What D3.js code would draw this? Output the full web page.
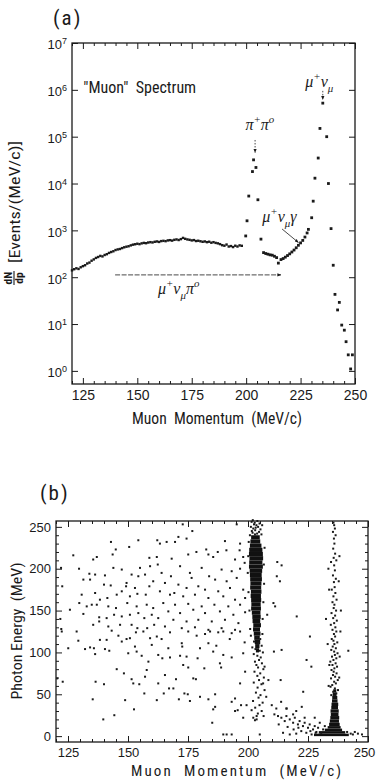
<!DOCTYPE html>
<html>
<head>
<meta charset="utf-8">
<script src="https://cdn.jsdelivr.net/npm/d3@7"></script>
<style>
  body { margin: 0; background: #fff; }
  svg { display: block; }
</style>
</head>
<body>
<script>
// ---- panel (a): "Muon" spectrum, [momentum MeV/c, dN/dp] ----
const continuum = [[120,140],[121,148],[122,155],[123,150],[124,163],[125,172],[126,180],[127,196],[128,205],[129,225],
  [130,240],[131,258],[132,270],[133,285],[134,278],[135,298],[136,310],[137,330],[138,345],[139,358],
  [140,380],[141,392],[142,400],[143,418],[144,435],[145,448],[146,458],[147,478],[148,495],[149,505],
  [150,518],[151,508],[152,528],[153,540],[154,532],[155,550],[156,560],[157,552],[158,570],[159,580],
  [160,566],[161,590],[162,598],[163,588],[164,610],[165,618],[166,604],[167,628],[168,640],[169,622],
  [170,650],[171,690],[172,660],[173,640],[174,628],[175,610],[176,620],[177,592],[178,600],[179,585],
  [180,570],[181,580],[182,560],[183,572],[184,545],[185,560],[186,540],[187,528],[188,508],[189,482],
  [190,470],[191,498],[192,452],[193,462],[194,440],[195,470],[196,452],[197,478],[198,468]];
const pipiPeak = [[199.8,760],[200.4,1600],[201.2,5400],[202.9,18000],[203.4,32000],[204.5,22000],[205.4,4500],[206.8,650]];
const radiative = [[208,335],[209,320],[210,310],[211,300],[212,295],[213,280],[214,262],[214.8,200],[216,238],[217,250],
  [218,268],[219,290],[220,315],[221,345],[222,380],[223,425],[224,480],[225,540],[226,610],[227,720],[228,880],[228.6,1050]];
const munuPeak = [[230.1,1860],[230.8,4200],[231.6,13000],[233.1,35000],[233.9,150000],[235.2,520000],[237,100000],
  [237.8,10000],[239,1090],[240,180],[240.8,43],[242,20],[242.8,29],[243.9,9.5],[245.1,7.4],[245.9,4.2],
  [246.9,2.2],[248,1.1],[248.8,2.2]];
const xTicksA = [125, 150, 175, 200, 225, 250];
const yTicksA = [1, 10, 100, 1e3, 1e4, 1e5, 1e6, 1e7];

// ---- panel (b): scatter, [momentum MeV/c, photon energy MeV] ----
const background = [
  [142.9,232],[154.3,234],[150.5,226],[144.9,223],[162.2,234],[127.2,216],[137,214],[135.5,211],[143.6,217],[158.9,213],
  [122.1,201],[129.6,200],[143.9,201],[155,201],[159.2,203],[133.9,194],[136.3,193],[140.4,192],[147.4,199],[151.5,193],
  [154.3,191],[157.1,193],[131.4,187],[134.2,187],[140,181],[142.8,180],[149.4,183],[149.2,179],[152.9,177],[158.9,179],
  [160.5,185],[122.6,179],[147.4,173],[145.3,169],[150.8,167],[153.9,170],[157.4,169],[130.7,169],[136.3,171],[138.3,163],
  [141.4,165],[129.7,159],[132.8,155],[134.9,157],[137,157],[141.8,155],[145,153],[149.7,159],[153.6,155],[157.8,157],
  [160.5,153],[125.8,151],[131.4,146],[138,142],[141.1,141],[144.2,145],[147.4,143],[150.8,145],[154.3,147],[156.8,141],
  [159.9,145],[135.5,133],[138,137],[141.8,131],[146.7,133],[151.5,133],[153.9,129],[158,129],[160.9,133],[121.8,140],
  [122.2,128],
  [163.3,230],[166.1,232],[169.6,232],[171,238],[174.4,236],[176.8,245],[172.8,253],[190.4,233],[195.3,253],[196.7,230],
  [187.4,220],[183.5,217],[185.5,214],[175.1,217],[198,214],[194.6,211],[162,214],[168.2,212],[162.4,205],[171.7,203],
  [180.7,201],[189,199],[193.2,197],[196.7,200],[164,195],[167.9,191],[175.8,195],[176.5,189],[183.8,191],[186.3,187],
  [191.1,185],[195.3,189],[165.4,183],[171,181],[174.4,177],[179.3,179],[182.1,175],[187.6,173],[192.5,177],[198,175],
  [163.3,173],[167.5,169],[169.3,171],[173,167],[177.9,169],[183.5,165],[189.7,167],[194.6,163],[198.8,165],[164.7,159],
  [169.6,157],[175.1,158],[180.7,155],[186,157],[191.8,155],[196.7,157],[166.8,149],[171.7,147],[177.2,151],[182.1,147],
  [188.3,149],[193.9,145],[198.8,148],[162.6,141],[168.9,139],[174.4,137],[179.3,139],[184.9,137],[190.4,139],[196,135],
  [165.4,131],[172.4,129],[177.9,130],[183.5,127],[189,129],[194.6,127],[178.5,220],[182.6,223],[191,222],[196.5,222],
  [198.6,207],
  [122.4,125],[128.6,125],[143.2,126],[146,120],[141.1,115],[138.3,115],[147.4,113],[149.4,116],[150.8,117],[153.3,124],
  [156.4,125],[159.2,117],[162,119],[129.3,114],[134.2,106],[135.8,105],[132.1,104],[125.1,105],[136.3,98],[140.4,104],
  [142.2,102],[150.1,99],[152.9,107],[153.6,101],[155.7,96],[158.5,89],[159.9,109],[162.6,97],[145.3,80],[148.3,75],
  [151.5,68],[152.2,63],[154.7,62],[157.1,71],[157.8,79],[162.6,63],[120.5,69],[122.8,65],[136.5,65],[140,62],
  [135.3,44],[148.8,43],[156.8,51],[162,43],[152.5,32],[144.3,25],[139.7,20],
  [167.5,124],[175.1,125],[178.6,120],[182.1,122],[184.2,125],[187.6,124],[189.7,125],[193.2,123],[196.7,125],[164,116],
  [172.4,111],[172.6,107],[166.8,105],[180,105],[183.5,111],[185.5,101],[164.3,93],[167.5,94],[171.7,96],[174.4,95],
  [179,93],[189.7,97],[193.2,94],[198,99],[173,85],[175.1,82],[181.8,81],[188.3,87],[188.8,82],[198.8,77],
  [165.4,73],[177.2,69],[178.3,68],[170,68],[196.7,63],[164.9,51],[167.1,57],[168.9,57],[173.5,51],[174.9,50],
  [180,47],[183.5,44],[186.3,50],[193.2,41],[194.6,45],[171.2,44],[175.8,42],[186.3,35],[185.5,32],[194.6,30],
  [195.7,31],[185.1,16],[189.7,2],[191.1,2],[193.2,2],[197.1,37],[198,22],[199.4,37],[198.6,112],[192.4,116],
  [186.8,108],
  [212.2,208],[214,204],[212,191],[213.3,185],[210.6,159],[211.3,155],[220.3,143],[208,145],[225.8,119],[210.8,101],
  [214,103],[224.4,91],[241.8,102],[213.6,67],[223,53],[208.5,67],[209.9,37],[213.8,41],[222.4,35],[216.1,33],
  [226.4,83],[206.9,83],[206.3,63],[207.6,47]];
const lowTail = [[211,26],[212.5,24],[213.9,22],[215.3,18],[216,24],[217.4,20],[218.8,16],[219.5,22],[220.8,14],[221.5,18],
  [222.9,12],[223.6,16],[225,10],[225.7,14],[227.1,8],[227.8,12],[229.2,10],[229.9,16],[231.3,8],[232,12],
  [214.6,4],[217.4,2],[220.1,3],[222.2,6],[224.3,4],[218.8,26],[220.1,30],[211.8,33],[216,33],[223.6,22],
  [227.8,22],[219,8],[221,10],[226,6],[228.5,5],[230.5,4],[243.7,2],[245.8,3],[244.5,5],[247.5,2],
  [212.8,14],[216.5,11],[204.9,2]];
// dense cores: [energy lo, energy hi, momentum lo, momentum hi]
const core203 = [[235,240,201.3,204.9],[230,235,201.0,205.1],[225,230,200.8,205.6],[220,225,200.5,206.0],[215,220,200.4,206.2],
  [210,215,200.6,206.3],[205,210,200.5,206.0],[200,205,200.4,206.2],[195,200,200.7,205.9],[190,195,200.8,205.7],
  [185,190,200.9,205.8],[180,185,201.0,205.6],[175,180,200.9,205.5],[170,175,201.2,205.6],[165,170,201.1,205.4],
  [160,165,201.3,205.5],[155,160,201.4,205.3],[150,155,201.3,205.4],[145,150,201.6,205.2],[140,145,201.8,205.3],
  [135,140,201.9,205.1],[130,135,202.2,205.4],[125,130,202.1,205.0],[120,125,202.4,205.2],[115,120,202.6,204.9],
  [110,115,202.8,205.1],[105,110,203.0,204.8],[100,105,203.3,204.6]];
const fringe203 = [[201.5,256],[202.8,255],[203.9,257],[203.5,252],[204.2,250],[201.2,250],[202.2,248],[203,246],[204.6,244],
  [201.9,243],[203.8,242],[205.2,247],[202.5,253],[204.8,254],[201.6,245],[202.9,241],[205.6,241],[200.8,240],[203.2,249],
  [205.9,252],[202,258],[200.1,215],[206.6,205],[206.7,182],[200.2,172],[206.4,160],[200.6,150],[206.1,140],[200.9,128],
  [206,122],[199.9,195],[206.9,225],[200.3,232],
  [201.2,120],[203.8,118],[205.1,116],[202.5,113],[204.4,111],[205.7,108],[201.8,106],[203.1,104],[204.9,102],[206.2,100],
  [202.4,98],[203.9,96],[205.3,94],[204.6,91],[202.9,89],[205.8,87],[203.5,85],[204.2,82],[206.4,80],[202.7,77],
  [205.1,75],[203.9,72],[206.6,70],[204.6,67],[202.4,64],[205.6,62],[204,58],[206.9,55],[203.3,52],[205.2,49],
  [204.4,46],[202.1,42],[206.1,40],[204.8,37],[203,34],[205.7,30],[204.1,27],[206.5,24],[203.6,20],[201.5,31],
  [202.2,22],[202.9,19],[203.6,24]];
const core235 = [[0,3,227.5,242.0],[3,6,229.5,240.5],[6,9,232.0,239.2],[9,12,233.2,238.6],[12,16,233.8,238.2],
  [16,20,234.1,237.9],[20,24,234.3,238.0],[24,28,234.5,237.7],[28,32,234.4,237.8],[32,36,234.7,237.5],
  [36,40,234.8,237.6],[40,44,235.0,237.3],[44,48,235.1,237.2],[48,52,235.3,236.9],[52,56,235.5,236.8]];
const fringe235 = [[235.6,255],[235.9,252],[236.2,248],[235.4,244],[236.5,240],[235.8,236],[236,230],[235.5,224],[236.3,218],
  [235.7,213],[236.8,210],[234.6,208],[235.9,204],[236.2,198],[235.4,192],[236.6,188],[235.8,184],[236.1,178],[234.9,175],
  [236.4,171],[235.6,167],[236.9,163],[235.2,160],[236,157],[235.7,153],[236.7,150],[234.8,147],[236.3,144],[235.5,141],
  [237,138],[235.9,135],[234.5,133],[236.4,130],[235.2,127],[236.8,125],[235.8,122],[236.3,119],[234.9,116],[235.6,114],
  [237.2,112],[236,110],[235.3,107],[236.6,105],[234.7,103],[235.9,101],[237.3,99],[236.2,97],[235,95],[236.8,93],
  [235.6,91],[234.3,89],[236.5,87],[235.2,85],[237.1,83],[236,81],[234.8,79],[235.7,77],[236.9,75],[235.4,73],
  [236.3,71],[234.6,69],[237.4,67],[235.9,65],[236.6,63],[235.1,61],[234.4,59],[236.2,57],[237.5,55],[235.5,53],
  [236.8,51],[234.7,49],[233.6,60],[238,70],[233.9,85],[238.2,95],[233.2,110],[238.5,125],[232.5,140],[238.7,150],
  [233.8,175],[237.8,185],[233.5,200],[238.1,215],[226.5,2],[241.3,5],[242.8,3],[228.2,4]];
const xTicksB = [125, 150, 175, 200, 225, 250];
const yTicksB = [0, 50, 100, 150, 200, 250];

const FONT = "'Liberation Sans Narrow','Roboto Condensed','Liberation Sans',Arial,sans-serif";
const SERIF = "'Liberation Serif','DejaVu Serif',serif";
const INK = '#1a1a1a';

const svg = d3.select('body').append('svg')
  .attr('width', 377)
  .attr('height', 781)
  .style('font-family', FONT);

// inward ticks on all four sides of a framed plot
const drawFrame = (x, y, majorX, minorX, majorY, minorY, fmtY) => {
  const [x0, x1] = x.range();
  const [y0, y1] = y.range();
  const g = svg.append('g').attr('class', 'frame');
  const tick = (axis, tx, ty, vals, len, fmt) => {
    const a = g.append('g').attr('transform', `translate(${tx},${ty})`)
      .call(axis.tickValues(vals).tickSizeInner(-len).tickSizeOuter(0).tickFormat(fmt || ''));
    a.select('.domain').remove();
    a.selectAll('line').attr('stroke', INK).attr('stroke-width', 1);
    return a;
  };
  const bottom = tick(d3.axisBottom(x).tickPadding(6), 0, y0, majorX, 6, d3.format('d'));
  tick(d3.axisBottom(x), 0, y0, minorX, 3);
  tick(d3.axisTop(x), 0, y1, majorX, 6);
  tick(d3.axisTop(x), 0, y1, minorX, 3);
  const left = tick(d3.axisLeft(y).tickPadding(5), x0, 0, majorY, 6, fmtY);
  if (minorY) {
    tick(d3.axisLeft(y), x0, 0, minorY, 3);
    tick(d3.axisRight(y), x1, 0, minorY, 3);
  }
  tick(d3.axisRight(y), x1, 0, majorY, 6);
  g.append('rect')
    .attr('x', x0).attr('y', y1)
    .attr('width', x1 - x0).attr('height', y0 - y1)
    .attr('fill', 'none').attr('stroke', INK).attr('stroke-width', 1.3);
  return { bottom, left };
};

// text with super/subscripts: parts = [[string, 'sup'|'sub'|undefined], ...]
const richText = (x, y, parts, size, anchor) => {
  const t = svg.append('text')
    .attr('x', x).attr('y', y)
    .attr('font-family', SERIF)
    .attr('font-style', 'italic')
    .attr('font-size', size)
    .attr('text-anchor', anchor || 'start')
    .attr('fill', INK);
  let shift = 0;
  parts.forEach(([s, kind]) => {
    const target = kind === 'sup' ? -0.45 * size : kind === 'sub' ? 0.3 * size : 0;
    t.append('tspan')
      .attr('dy', target - shift)
      .attr('font-size', kind ? size * 0.68 : size)
      .text(s);
    shift = target;
  });
  return t;
};

// ================= panel (a) =================
const ax = d3.scaleLinear().domain([120, 250]).range([72, 355]);
const ay = d3.scaleLog().domain([Math.pow(10, -0.28), 1e7]).range([384, 43]);

const minorA = d3.range(120, 251, 5).filter(v => v % 25 !== 0);
const frameA = drawFrame(ax, ay, xTicksA, minorA, yTicksA, null, () => '');
frameA.bottom.selectAll('text').attr('font-size', 14).attr('fill', INK);
frameA.left.selectAll('.tick text').each(function(d) {
  const t = d3.select(this).attr('font-size', 13).attr('fill', INK).attr('dy', '0.45em');
  t.append('tspan').text('10');
  t.append('tspan').attr('dy', '-0.55em').attr('font-size', 9).text(Math.round(Math.log10(d)));
});

const spectrum = svg.append('g').attr('class', 'spectrum').attr('fill', INK);
spectrum.selectAll('rect.cont')
  .data(continuum)
  .enter()
  .append('rect')
  .attr('class', 'cont')
  .attr('x', d => ax(d[0]) - 1.2)
  .attr('y', d => ay(d[1]) - 1.2)
  .attr('width', 2.4)
  .attr('height', 2.4);
spectrum.selectAll('rect.peak')
  .data(pipiPeak.concat(radiative, munuPeak))
  .enter()
  .append('rect')
  .attr('class', 'peak')
  .attr('x', d => ax(d[0]) - 1.4)
  .attr('y', d => ay(d[1]) - 1.4)
  .attr('width', 2.8)
  .attr('height', 2.8);

// annotations
svg.append('text')
  .attr('x', 53).attr('y', 25)
  .attr('font-size', 21).attr('fill', INK)
  .style('letter-spacing', '2px')
  .text('(a)');
svg.append('text')
  .attr('x', ax(125.2)).attr('y', ay(8.5e5))
  .attr('font-size', 16).attr('fill', INK)
  .attr('xml:space', 'preserve')
  .text('"Muon"  Spectrum');

const defs = svg.append('defs');
defs.append('marker')
  .attr('id', 'head')
  .attr('viewBox', '0 0 10 10')
  .attr('refX', 9).attr('refY', 5)
  .attr('markerWidth', 5).attr('markerHeight', 5)
  .attr('orient', 'auto')
  .append('path')
  .attr('d', 'M0,1 L10,5 L0,9 Z')
  .attr('fill', INK);

const arrow = (x1, y1, x2, y2, dash) => svg.append('line')
  .attr('x1', x1).attr('y1', y1).attr('x2', x2).attr('y2', y2)
  .attr('stroke', INK).attr('stroke-width', 0.8)
  .attr('stroke-dasharray', dash || null)
  .attr('marker-end', 'url(#head)');

richText(ax(206.3), ay(1.4e5), [['π'], ['+', 'sup'], ['π'], ['o', 'sup']], 16, 'middle');
arrow(ax(204.1), ay(8.5e4), ax(204.1), ay(4.6e4), '1.5,1.5');
richText(ax(233.6), ay(1.15e6), [['μ'], ['+', 'sup'], ['ν'], ['μ', 'sub']], 16, 'middle');
arrow(ax(235.2), ay(9.5e5), ax(235.2), ay(6.2e5), '1.5,1.5');
richText(ax(207.4), ay(1500), [['μ'], ['+', 'sup'], ['ν'], ['μ', 'sub'], ['γ']], 16);
arrow(ax(216.5), ay(1070), ax(224), ay(550));
richText(ax(159.5), ay(44), [['μ'], ['+', 'sup'], ['ν'], ['μ', 'sub'], ['π'], ['o', 'sup']], 16);
arrow(ax(139.8), ay(112), ax(216), ay(112), '5,1.5');

svg.append('text')
  .attr('x', 217).attr('y', 424)
  .attr('text-anchor', 'middle')
  .attr('font-size', 16).attr('fill', INK)
  .attr('xml:space', 'preserve')
  .attr('textLength', 170).attr('lengthAdjust', 'spacingAndGlyphs')
  .text('Muon  Momentum  (MeV/c)');

// y title: dN/dp [Events/(MeV/c)]
const frac = svg.append('g').attr('transform', 'translate(14,278) rotate(-90)')
  .attr('fill', INK).attr('font-size', 11.5).attr('font-weight', 'bold').attr('text-anchor', 'middle');
frac.append('text').attr('x', 0).attr('y', -1.8).text('dN');
frac.append('line').attr('x1', -7).attr('x2', 7).attr('y1', 0).attr('y2', 0)
  .attr('stroke', INK).attr('stroke-width', 1.1);
frac.append('text').attr('x', 0).attr('y', 8.8).text('dp');
svg.append('text')
  .attr('transform', 'translate(20,263) rotate(-90)')
  .attr('font-size', 15).attr('fill', INK)
  .attr('textLength', 122).attr('lengthAdjust', 'spacingAndGlyphs')
  .text('[Events/(MeV/c)]');

// ================= panel (b) =================
const bx = d3.scaleLinear().domain([120, 250]).range([56, 368]);
const by = d3.scaleLinear().domain([-7, 257]).range([742, 521]);

const minorBX = d3.range(120, 251, 5).filter(v => v % 25 !== 0);
const minorBY = d3.range(10, 251, 10).filter(v => v % 50 !== 0);
const frameB = drawFrame(bx, by, xTicksB, minorBX, yTicksB, minorBY, d3.format('d'));
frameB.bottom.selectAll('text').attr('font-size', 13).attr('fill', INK)
  .attr('dx', d => d === 250 ? -4 : 0);
frameB.left.selectAll('text').attr('font-size', 13).attr('fill', INK);

const scatter = svg.append('g').attr('class', 'scatter').attr('fill', INK);
scatter.selectAll('rect.core')
  .data(core203.concat(core235))
  .enter()
  .append('rect')
  .attr('class', 'core')
  .attr('x', d => bx(d[2]))
  .attr('y', d => by(d[1]))
  .attr('width', d => bx(d[3]) - bx(d[2]))
  .attr('height', d => by(d[0]) - by(d[1]))
  .attr('fill', '#111');
scatter.selectAll('rect.dot')
  .data(background.concat(lowTail, fringe203, fringe235))
  .enter()
  .append('rect')
  .attr('class', 'dot')
  .attr('x', d => bx(d[0]) - 1)
  .attr('y', d => by(d[1]) - 1)
  .attr('width', 2)
  .attr('height', 2);

svg.append('text')
  .attr('x', 40).attr('y', 500)
  .attr('font-size', 21).attr('fill', INK)
  .style('letter-spacing', '2px')
  .text('(b)');
svg.append('text')
  .attr('x', 236).attr('y', 776)
  .attr('text-anchor', 'middle')
  .attr('font-size', 15).attr('fill', INK)
  .attr('xml:space', 'preserve')
  .attr('textLength', 210).attr('lengthAdjust', 'spacing')
  .text('Muon  Momentum  (MeV/c)');
svg.append('text')
  .attr('transform', 'translate(22,631) rotate(-90)')
  .attr('text-anchor', 'middle')
  .attr('font-size', 14).attr('fill', INK)
  .attr('textLength', 137).attr('lengthAdjust', 'spacingAndGlyphs')
  .attr('xml:space', 'preserve')
  .text('Photon Energy  (MeV)');
</script>
</body>
</html>
